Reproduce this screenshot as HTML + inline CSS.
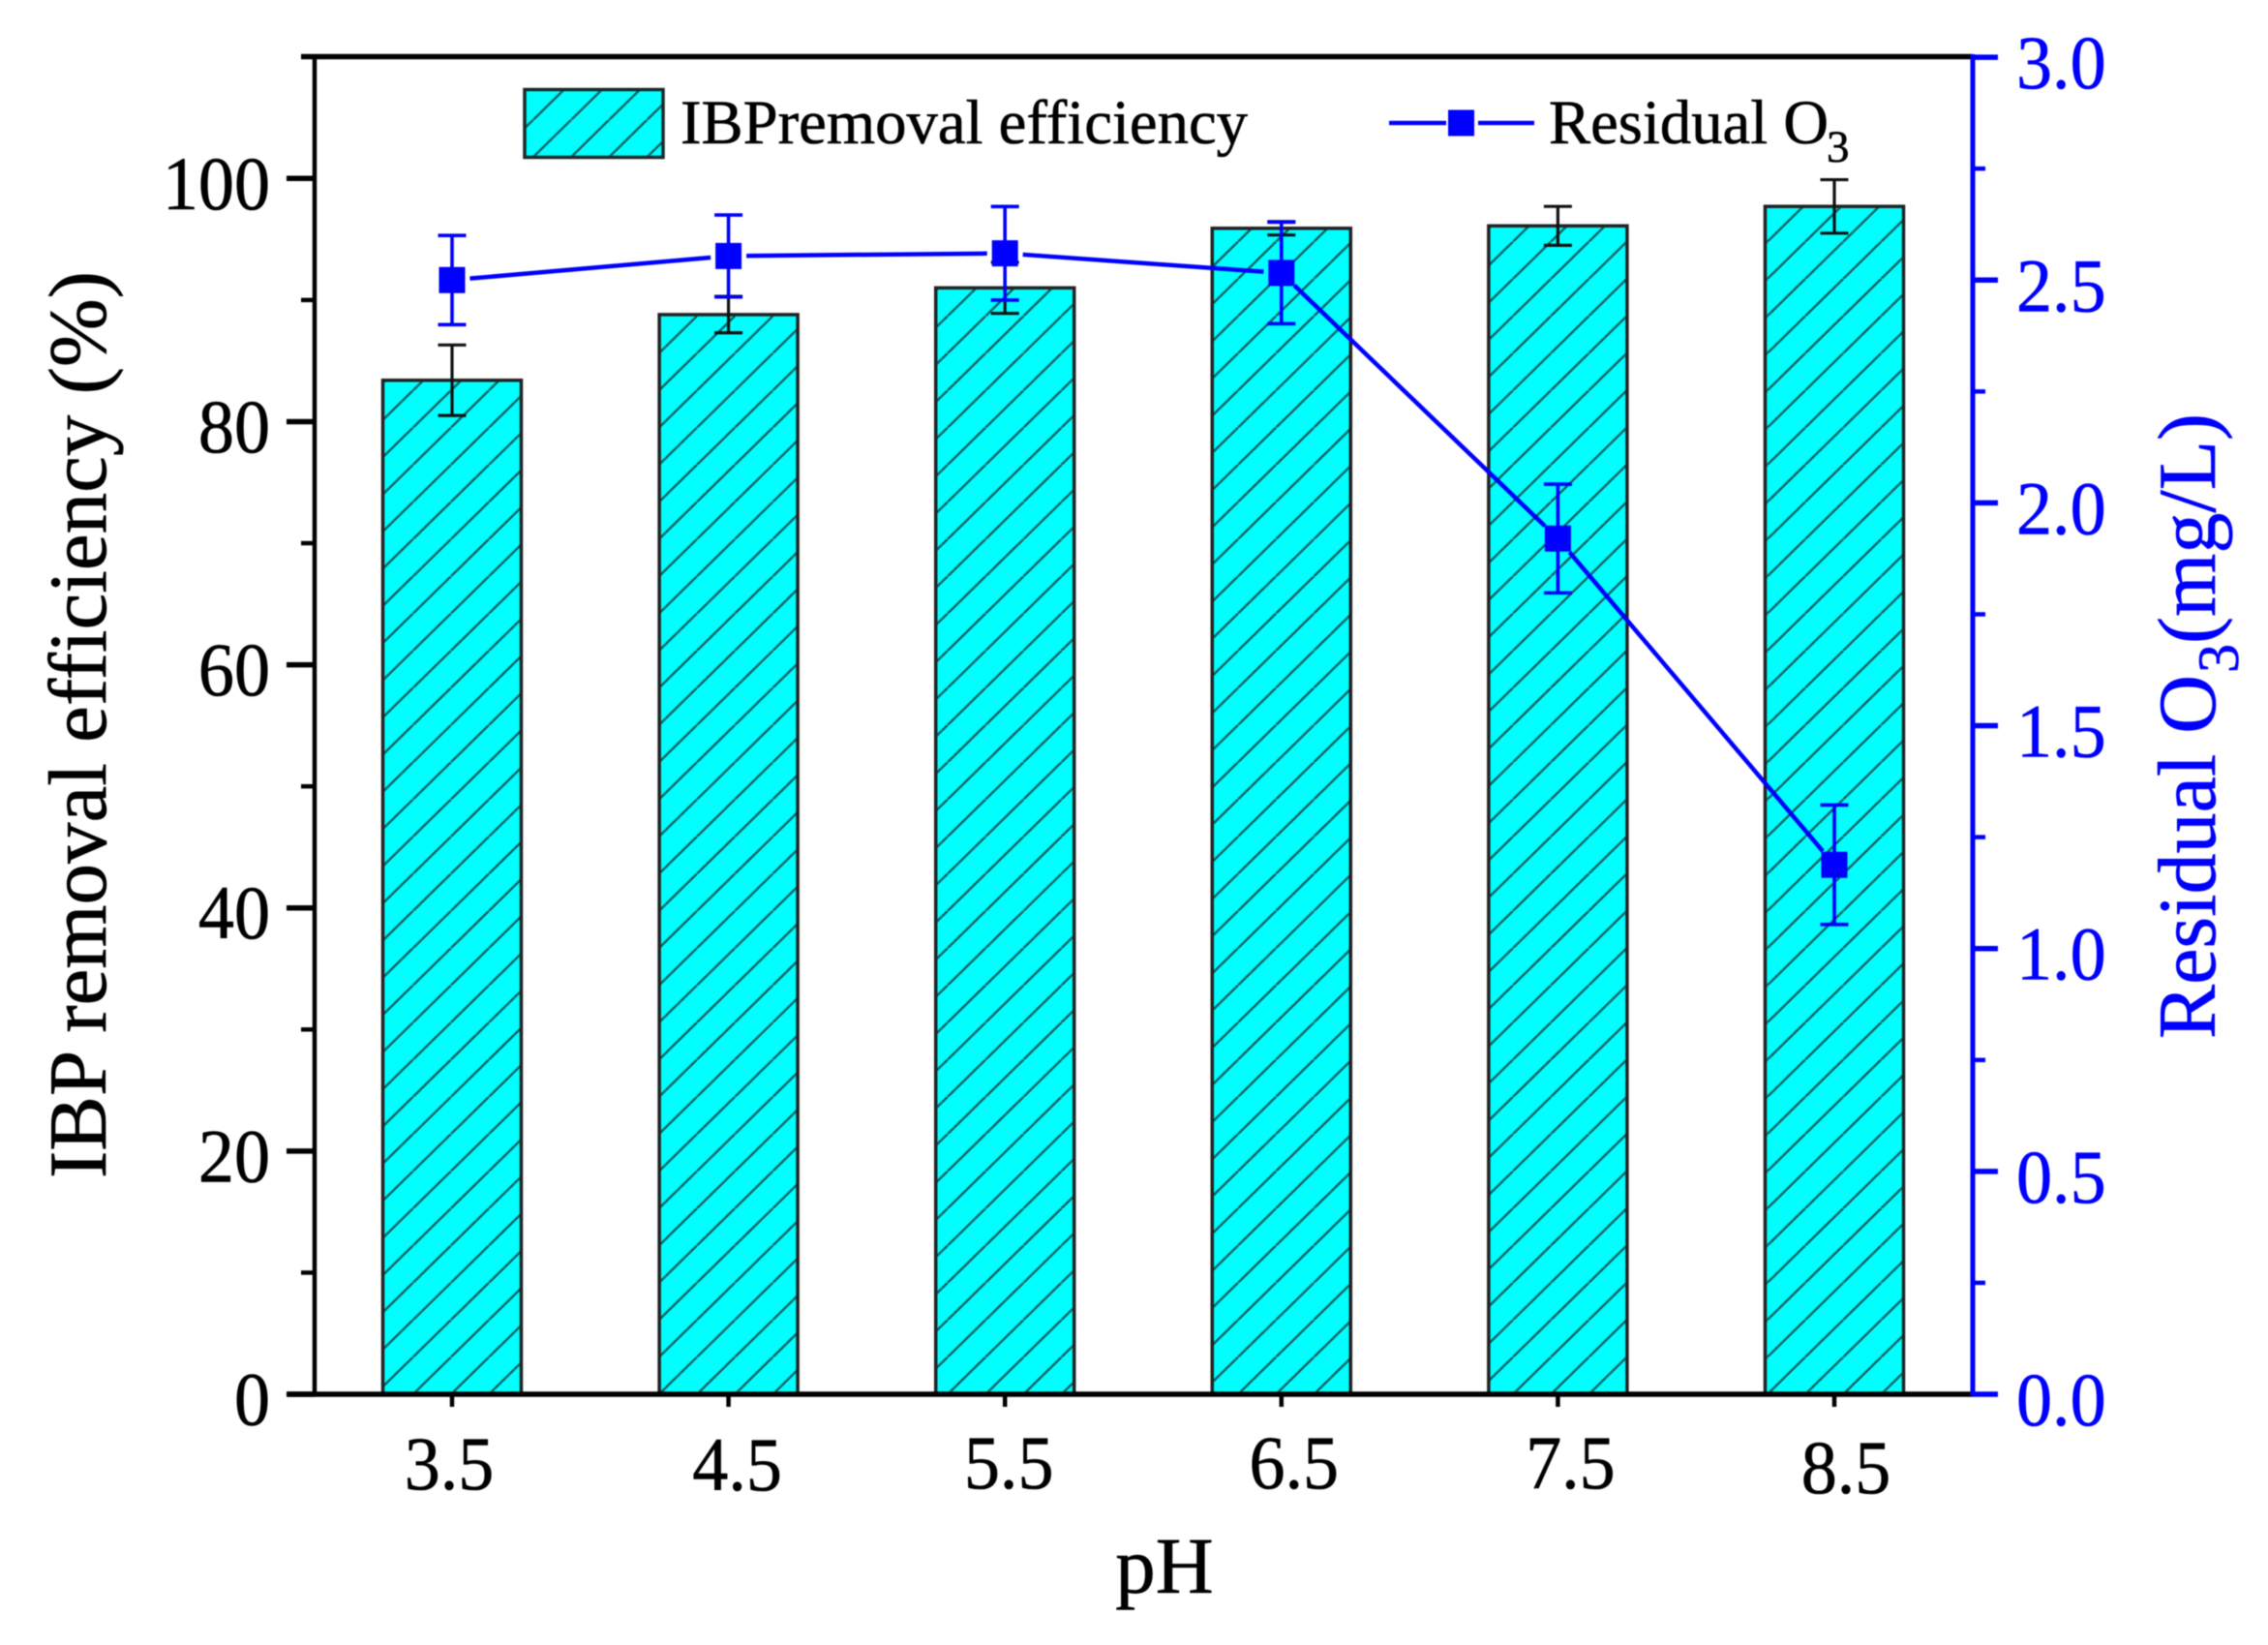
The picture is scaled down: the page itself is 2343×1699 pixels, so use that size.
<!DOCTYPE html>
<html lang="en">
<head>
<meta charset="utf-8">
<title>IBP removal efficiency and residual ozone vs pH</title>
<style>
html,body{margin:0;padding:0;background:#fff;}
svg{display:block;filter:blur(0.5px);}
text{font-family:"Liberation Serif",serif;stroke-width:0.6px;}
</style>
</head>
<body>
<svg id="chart" xmlns="http://www.w3.org/2000/svg" width="2343" height="1699" viewBox="0 0 2343 1699">
  <defs>
    <pattern id="hatch-legend" patternUnits="userSpaceOnUse" width="39.2" height="38.4" patternTransform="translate(551,123.6)">
      <path d="M-39.2,38.4L0,0M0,38.4L39.2,0M39.2,38.4L78.4,0" stroke="#0b5f5f" stroke-width="2.4" fill="none"/>
    </pattern>
    <pattern id="hatch-0" patternUnits="userSpaceOnUse" width="39.2" height="38.4" patternTransform="translate(426.7,1401.6)">
      <path d="M-39.2,38.4L0,0M0,38.4L39.2,0M39.2,38.4L78.4,0" stroke="#0b5f5f" stroke-width="2.4" fill="none"/>
    </pattern>
    <pattern id="hatch-1" patternUnits="userSpaceOnUse" width="39.2" height="38.4" patternTransform="translate(720,1401.6)">
      <path d="M-39.2,38.4L0,0M0,38.4L39.2,0M39.2,38.4L78.4,0" stroke="#0b5f5f" stroke-width="2.4" fill="none"/>
    </pattern>
    <pattern id="hatch-2" patternUnits="userSpaceOnUse" width="39.2" height="38.4" patternTransform="translate(979,1401.6)">
      <path d="M-39.2,38.4L0,0M0,38.4L39.2,0M39.2,38.4L78.4,0" stroke="#0b5f5f" stroke-width="2.4" fill="none"/>
    </pattern>
    <pattern id="hatch-3" patternUnits="userSpaceOnUse" width="39.2" height="38.4" patternTransform="translate(1279,1401.6)">
      <path d="M-39.2,38.4L0,0M0,38.4L39.2,0M39.2,38.4L78.4,0" stroke="#0b5f5f" stroke-width="2.4" fill="none"/>
    </pattern>
    <pattern id="hatch-4" patternUnits="userSpaceOnUse" width="39.2" height="38.4" patternTransform="translate(1563,1401.6)">
      <path d="M-39.2,38.4L0,0M0,38.4L39.2,0M39.2,38.4L78.4,0" stroke="#0b5f5f" stroke-width="2.4" fill="none"/>
    </pattern>
    <pattern id="hatch-5" patternUnits="userSpaceOnUse" width="39.2" height="38.4" patternTransform="translate(1865,1401.6)">
      <path d="M-39.2,38.4L0,0M0,38.4L39.2,0M39.2,38.4L78.4,0" stroke="#0b5f5f" stroke-width="2.4" fill="none"/>
    </pattern>
  </defs>

  <g id="bars"></g>
  <g id="bar-errors"></g>

  <g id="axes">
    <line x1="311" y1="58.5" x2="2038" y2="58.5" stroke="#000" stroke-width="5.5"/>
    <line x1="297" y1="1440" x2="2038" y2="1440" stroke="#000" stroke-width="5.5"/>
    <line x1="325" y1="56" x2="325" y2="1442" stroke="#000" stroke-width="4.5"/>
    <line x1="2038" y1="56" x2="2038" y2="1442" stroke="#0000ff" stroke-width="5"/>
  </g>
  <g id="left-ticks"></g>
  <g id="right-ticks"></g>
  <g id="x-ticks"></g>

  <g id="residual"></g>

  <g>
    <rect x="542" y="92.5" width="143" height="70" fill="#00ffff"/>
    <rect x="542" y="92.5" width="143" height="70" fill="url(#hatch-legend)" stroke="#1a2a2a" stroke-width="3.5"/>
    <text x="703" y="148" font-size="65" fill="#000" stroke="#000" textLength="586" lengthAdjust="spacingAndGlyphs">IBPremoval efficiency</text>
    <line x1="1435" y1="127" x2="1494" y2="127" stroke="#0000ff" stroke-width="4.5"/>
    <line x1="1527" y1="127" x2="1585" y2="127" stroke="#0000ff" stroke-width="4.5"/>
    <rect x="1496" y="113.5" width="27" height="27" fill="#0000ff"/>
    <text x="1600" y="148" font-size="65" fill="#000" stroke="#000" textLength="289" lengthAdjust="spacingAndGlyphs">Residual O</text>
    <text x="1887" y="167" font-size="47" fill="#000" stroke="#000">3</text>
  </g>

  <text x="1203" y="1645" font-size="83" text-anchor="middle" fill="#000" stroke="#000">pH</text>
  <text transform="translate(109,1217) rotate(-90)" font-size="85" fill="#000" stroke="#000" textLength="937" lengthAdjust="spacingAndGlyphs">IBP removal efficiency (%)</text>
  <g fill="#0000ff" stroke="#0000ff">
    <text transform="translate(2288,1073) rotate(-90)" font-size="85" textLength="376" lengthAdjust="spacingAndGlyphs">Residual O</text>
    <text transform="translate(2312,695) rotate(-90)" font-size="60">3</text>
    <text transform="translate(2288,665) rotate(-90)" font-size="85" textLength="238" lengthAdjust="spacingAndGlyphs">(mg/L)</text>
  </g>
</svg>

<script>
const phCategories = ['3.5', '4.5', '5.5', '6.5', '7.5', '8.5'];
const removalValues = [83.4, 88.8, 91.0, 95.9, 96.1, 97.7];
const removalErrors = [2.9, 1.5, 2.1, 0.55, 1.6, 2.2];
const residualValues = [2.50, 2.554, 2.56, 2.516, 1.92, 1.188];
const residualErrors = [0.10, 0.092, 0.105, 0.114, 0.122, 0.134];
const leftMajorTicks = [0, 20, 40, 60, 80, 100];
const leftMinorTicks = [10, 30, 50, 70, 90, 110];
const rightMajorTicks = ['0.0', '0.5', '1.0', '1.5', '2.0', '2.5', '3.0'];
const rightMinorTicks = [0.25, 0.75, 1.25, 1.75, 2.25, 2.75];
const xLabelNudgeX = [-3, 9, 4, 13, 13, 12];
const xLabelNudgeY = [0, 1, -1, -1, -1, 4];

const NS = 'http://www.w3.org/2000/svg';
const xAt = function (i) { return 467 + i * 285.6; };
const yLeft = function (v) { return 1440 - v * 12.557; };
const yRight = function (v) { return 1440 - v * 460.3; };

function make(tag, attrs, parent) {
  const el = document.createElementNS(NS, tag);
  Object.keys(attrs).forEach(function (k) { el.setAttribute(k, attrs[k]); });
  parent.appendChild(el);
  return el;
}

/* digits are 0.5em and the point 0.25em wide; the source labels are about 5% condensed */
function labelLength(str, size) {
  let w = 0;
  for (const ch of str) { w += ch === '.' ? 0.25 : 0.5; }
  return w * size * 0.95;
}

const barsG = document.getElementById('bars');
const barErrG = document.getElementById('bar-errors');
const leftG = document.getElementById('left-ticks');
const rightG = document.getElementById('right-ticks');
const xG = document.getElementById('x-ticks');
const resG = document.getElementById('residual');

/* bars */
removalValues.forEach(function (v, i) {
  const x = xAt(i) - 71.5;
  const top = yLeft(v);
  const fill = make('rect', { x: x, y: top, width: 143, height: 1440 - top, fill: '#00ffff' }, barsG);
  
  
  const hatch = make('rect', { x: x, y: top, width: 143, height: 1440 - top, fill: 'url(#hatch-' + i + ')', stroke: '#222', 'stroke-width': 3.5 }, barsG);
  
  
});

/* black error bars */
removalValues.forEach(function (v, i) {
  const cx = xAt(i);
  const hi = yLeft(v + removalErrors[i]);
  const lo = yLeft(v - removalErrors[i]);
  const d = 'M' + cx + ',' + hi + 'V' + lo + 'M' + (cx - 14.5) + ',' + hi + 'H' + (cx + 14.5) + 'M' + (cx - 14.5) + ',' + lo + 'H' + (cx + 14.5);
  const err = make('path', { d: d, stroke: '#111', 'stroke-width': 3.2, fill: 'none' }, barErrG);
  
  
});

/* left ticks and labels */
leftMajorTicks.forEach(function (v) {
  const y = yLeft(v);
  const t = make('line', { x1: 296, x2: 325, y1: y, y2: y, stroke: '#000', 'stroke-width': 5.5 }, leftG);
  
  
  const text = String(v);
  const lab = make('text', { x: 279, y: y + 31.5, 'font-size': 78, 'text-anchor': 'end', fill: '#000', stroke: '#000', textLength: labelLength(text, 78), lengthAdjust: 'spacingAndGlyphs' }, leftG);
  
  
  lab.textContent = text;
});
leftMinorTicks.forEach(function (v) {
  const y = yLeft(v);
  const t = make('line', { x1: 311, x2: 325, y1: y, y2: y, stroke: '#000', 'stroke-width': 4.5 }, leftG);
  
  
});

/* right ticks and labels */
rightMajorTicks.forEach(function (label) {
  const y = yRight(parseFloat(label));
  const t = make('line', { x1: 2038, x2: 2064, y1: y, y2: y, stroke: '#0000ff', 'stroke-width': 5.5 }, rightG);
  
  
  const lab = make('text', { x: 2083, y: y + 32, 'font-size': 78, fill: '#0000ff', stroke: '#0000ff', textLength: labelLength(label, 78), lengthAdjust: 'spacingAndGlyphs' }, rightG);
  
  
  lab.textContent = label;
});
rightMinorTicks.forEach(function (v) {
  const y = yRight(v);
  const t = make('line', { x1: 2038, x2: 2051, y1: y, y2: y, stroke: '#0000ff', 'stroke-width': 4.5 }, rightG);
  
  
});

/* x ticks and labels */
phCategories.forEach(function (c, i) {
  const x = xAt(i);
  const t = make('line', { x1: x, x2: x, y1: 1440, y2: 1453, stroke: '#000', 'stroke-width': 4.5 }, xG);
  
  
  const lab = make('text', { x: x + xLabelNudgeX[i], y: 1538 + xLabelNudgeY[i], 'font-size': 78, 'text-anchor': 'middle', fill: '#000', stroke: '#000', textLength: labelLength(c, 78), lengthAdjust: 'spacingAndGlyphs' }, xG);
  
  
  lab.textContent = c;
});

/* residual O3 line with a gap around each marker */
const MARKER_GAP = 18.5;
for (let i = 0; i < residualValues.length - 1; i++) {
  const x1 = xAt(i), y1 = yRight(residualValues[i]);
  const x2 = xAt(i + 1), y2 = yRight(residualValues[i + 1]);
  const len = Math.hypot(x2 - x1, y2 - y1);
  const ux = (x2 - x1) / len, uy = (y2 - y1) / len;
  const seg = make('line', {
    x1: x1 + ux * MARKER_GAP, y1: y1 + uy * MARKER_GAP,
    x2: x2 - ux * MARKER_GAP, y2: y2 - uy * MARKER_GAP,
    stroke: '#0000ff', 'stroke-width': 4.5
  }, resG);
  
  
}
residualValues.forEach(function (v, i) {
  const cx = xAt(i);
  const cy = yRight(v);
  const hi = yRight(v + residualErrors[i]);
  const lo = yRight(v - residualErrors[i]);
  const d = 'M' + cx + ',' + hi + 'V' + lo + 'M' + (cx - 14.5) + ',' + hi + 'H' + (cx + 14.5) + 'M' + (cx - 14.5) + ',' + lo + 'H' + (cx + 14.5);
  const err = make('path', { d: d, stroke: '#0000ff', 'stroke-width': 3.6, fill: 'none' }, resG);
  
  
  const m = make('rect', { x: cx - 13.5, y: cy - 13.5, width: 27, height: 27, fill: '#0000ff' }, resG);
  
  
});
</script>
</body>
</html>
